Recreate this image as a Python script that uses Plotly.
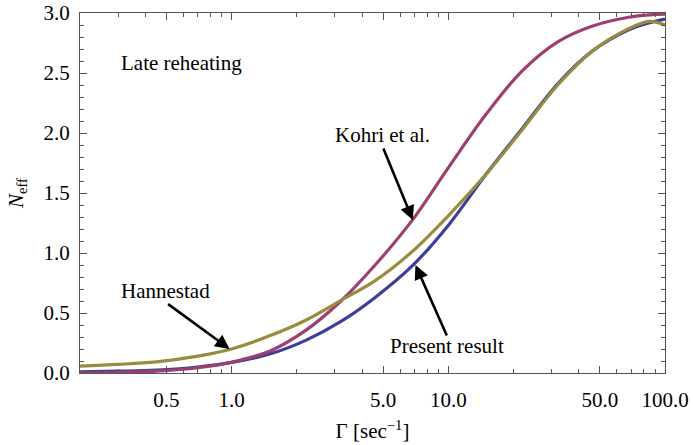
import plotly.graph_objects as go
import math

# Gamma [sec^-1]
gamma = [0.2, 0.3, 0.45, 0.7, 1.0, 1.5, 2.2, 3.2, 4.6, 6.8, 10.0, 15.0, 22.0,
         32.0, 46.0, 68.0, 85.0, 100.0]

present = [0.010, 0.015, 0.024, 0.050, 0.088, 0.158, 0.272, 0.43, 0.63, 0.89, 1.23,
           1.66, 2.04, 2.41, 2.68, 2.86, 2.92, 2.95]
kohri = [0.000, 0.004, 0.015, 0.044, 0.090, 0.182, 0.355, 0.60, 0.90, 1.27, 1.71,
         2.16, 2.52, 2.76, 2.89, 2.965, 2.985, 2.99]
hannestad = [0.058, 0.072, 0.093, 0.14, 0.20, 0.31, 0.44, 0.605, 0.77, 1.01, 1.31,
             1.66, 2.03, 2.40, 2.68, 2.87, 2.93, 2.90]

x_major = [0.5, 1.0, 5.0, 10.0, 50.0, 100.0]
x_major_text = ["0.5", "1.0", "5.0", "10.0", "50.0", "100.0"]
x_minor = [0.2, 0.3, 0.4, 0.6, 0.7, 0.8, 0.9, 2, 3, 4, 6, 7, 8, 9,
           20, 30, 40, 60, 70, 80, 90]
y_major = [0.0, 0.5, 1.0, 1.5, 2.0, 2.5, 3.0]
y_major_text = ["0.0", "0.5", "1.0", "1.5", "2.0", "2.5", "3.0"]

BLUE = "#3d3d9c"
MAGENTA = "#9e3f72"
OLIVE = "#9a8c3e"
FONT = "Liberation Serif, Times New Roman, Times, serif"

fig = go.Figure()
fig.add_trace(go.Scatter(x=gamma, y=present, mode="lines",
                         line=dict(color=BLUE, width=3.2, shape="spline", smoothing=1)))
fig.add_trace(go.Scatter(x=gamma, y=kohri, mode="lines",
                         line=dict(color=MAGENTA, width=3.2, shape="spline", smoothing=1)))
fig.add_trace(go.Scatter(x=gamma, y=hannestad, mode="lines",
                         line=dict(color=OLIVE, width=3.2, shape="spline", smoothing=1)))

axis_common = dict(
    showgrid=False, zeroline=False, showline=True, linecolor="#555555", linewidth=1,
    mirror="ticks", ticks="inside", ticklen=7, tickcolor="#555555", tickwidth=1,
    tickfont=dict(family=FONT, size=21, color="black"), automargin=False,
)

fig.update_xaxes(
    type="log", range=[math.log10(0.2), 2.0],
    tickmode="array", tickvals=x_major, ticktext=x_major_text,
    minor=dict(tickmode="array", tickvals=x_minor, ticks="inside", ticklen=4,
               tickcolor="#555555", showgrid=False),
    title=dict(text="Γ [sec<sup>−1</sup>]", font=dict(family=FONT, size=21, color="black"),
               standoff=12),
    ticklabelstandoff=8,
    **axis_common,
)
fig.update_yaxes(
    range=[0, 3.0],
    tickmode="array", tickvals=y_major, ticktext=y_major_text,
    minor=dict(dtick=0.1, ticks="inside", ticklen=4, tickcolor="#555555", showgrid=False),
    title=dict(text="<i>N</i><sub>eff</sub>", font=dict(family=FONT, size=21, color="black"),
               standoff=14),
    ticklabelstandoff=5,
    **axis_common,
)

def lx(v):
    return math.log10(v)

annotations = [
    dict(x=lx(0.59), y=2.58, text="Late reheating", showarrow=False,
         xanchor="center", yanchor="middle"),
    dict(x=lx(4.95), y=1.98, text="Kohri et al.", showarrow=False,
         xanchor="center", yanchor="middle"),
    dict(x=lx(0.495), y=0.683, text="Hannestad", showarrow=False,
         xanchor="center", yanchor="middle"),
    dict(x=lx(9.9), y=0.225, text="Present result", showarrow=False,
         xanchor="center", yanchor="middle"),
]
for a in annotations:
    a["font"] = dict(family=FONT, size=21, color="black")
    a["xref"] = "x"
    a["yref"] = "y"

arrows = [
    dict(x=lx(6.86), y=1.275, ax=-30, ay=-73),
    dict(x=lx(0.98), y=0.20, ax=-63, ay=-46),
    dict(x=lx(7.06), y=0.90, ax=32, ay=72),
]
for a in arrows:
    a.update(xref="x", yref="y", text="", showarrow=True, arrowhead=2, arrowsize=1.1,
             arrowwidth=2.6, arrowcolor="black", standoff=0)
    annotations.append(a)

fig.update_layout(
    width=693, height=445,
    margin=dict(l=80, r=28, t=13, b=72),
    paper_bgcolor="white", plot_bgcolor="white",
    showlegend=False,
    annotations=annotations,
)

fig.write_html("out.html")
